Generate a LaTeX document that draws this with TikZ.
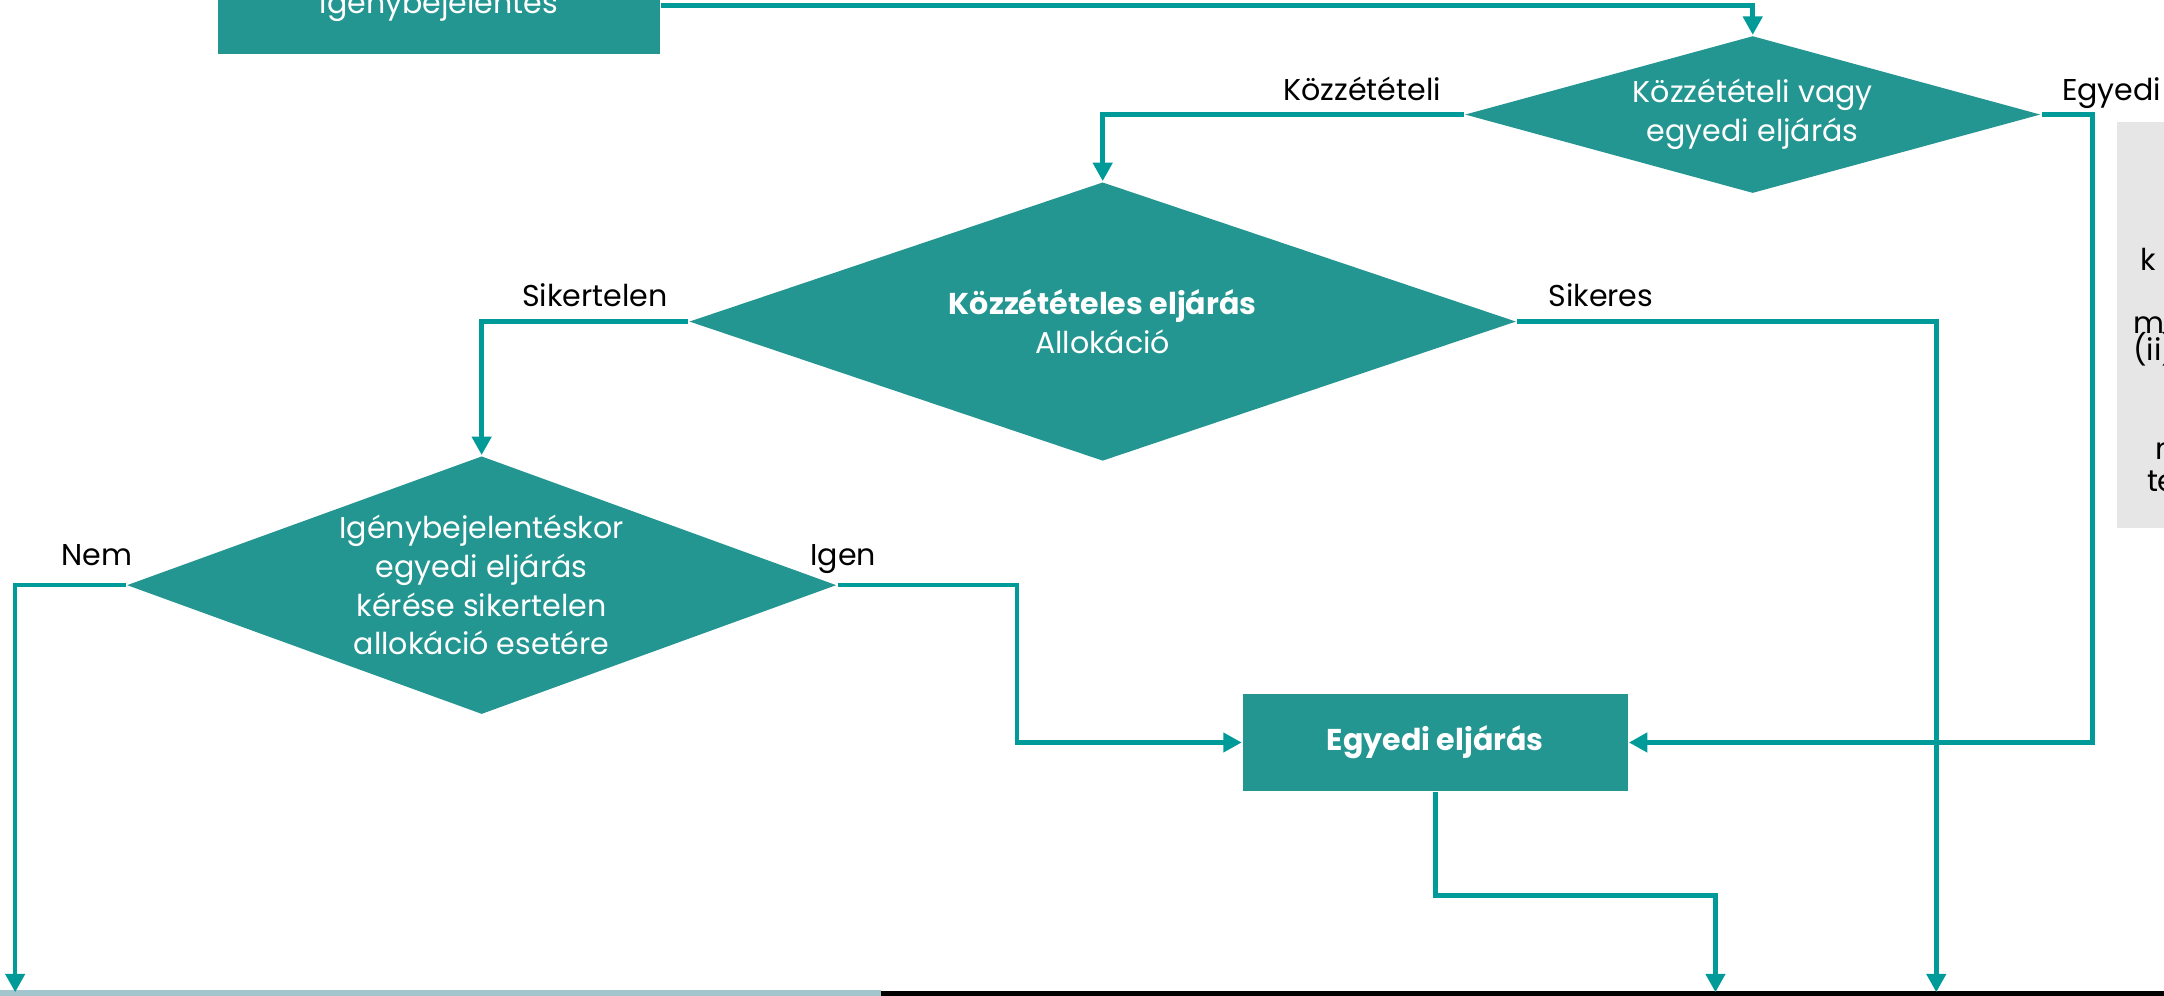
\documentclass[tikz,border=0pt]{standalone}
\usepackage{fontspec}
\setmainfont{Poppins}
\usetikzlibrary{shapes.geometric,arrows.meta}
\definecolor{tealfill}{HTML}{249692}
\definecolor{tealline}{HTML}{009B98}
\definecolor{boxgray}{HTML}{E6E6E6}
\definecolor{bandblue}{HTML}{A2C5CE}

\newcommand{\flowfont}{\fontsize{6.2}{7.97}\selectfont}

\tikzset{
	decision/.style={diamond, fill=tealfill, text=white, inner sep=0pt, aspect=3, align=center, font=\flowfont},
	process/.style={rectangle, fill=tealfill, text=white, inner sep=0pt, align=center, font=\flowfont\bfseries},
	answer/.style={inner sep=0pt, anchor=base, text=black, font=\flowfont},
	flow/.style={draw=tealline, line width=0.95pt, -{Triangle[length=3.8pt,width=3.9pt]}},
}

\begin{document}
\begin{tikzpicture}[x=0.01cm, y=-0.01cm]

\def\W{1568}
\def\H{721}

\useasboundingbox (0,0) rectangle (\W,\H);
\clip (0,0) rectangle (\W,\H);

% boxes
\node[process, font=\flowfont, minimum width=3.2cm, minimum height=0.7cm] (notice) at (318,4) {Igénybejelentés};
\node[decision, minimum width=4.17cm, minimum height=1.14cm] (choice) at (1270,83) {Közzétételi vagy\\egyedi eljárás};
\node[decision, minimum width=5.99cm, minimum height=2.02cm] (alloc) at (799,233) {\textbf{Közzétételes eljárás}\\Allokáció};
\node[decision, minimum width=5.14cm, minimum height=1.87cm] (request) at (349,424) {Igénybejelentéskor\\egyedi eljárás\\kérése sikertelen\\allokáció esetére};
\node[process, minimum width=2.79cm, minimum height=0.7cm] (single) at (1040,538) {Egyedi eljárás};

% grey note, cut at the right
\node[fill=boxgray, inner sep=0pt, anchor=north west, minimum width=1cm, minimum height=2.94cm] (info) at (1533,88) {};
\node[answer, anchor=base west] (infoA) at (1550,196) {k};
\node[answer, anchor=base west] (infoB) at (1545,242) {m};
\node[answer, anchor=base west] (infoC) at (1545,261) {(ii)};
\node[answer, anchor=base west] (infoD) at (1561,333) {n};
\node[answer, anchor=base west] (infoE) at (1555,356) {te};

% boxes below, cut at the bottom
\fill[bandblue] (0,717.5) rectangle (638,730);
\draw[black, line width=1pt] (638,720) -- (\W,720);
\coordinate (outNem) at (11,719);
\coordinate (outSingle) at (1243,719);
\coordinate (outSikeres) at (1403,719);

% labels
\node[answer] (lblPub) at (987,73) {Közzétételi};
\node[answer] (lblSingle) at (1530,73) {Egyedi};
\node[answer] (lblFail) at (431,222) {Sikertelen};
\node[answer] (lblOk) at (1160,222) {Sikeres};
\node[answer] (lblNo) at (70,410) {Nem};
\node[answer] (lblYes) at (611,410) {Igen};

% connectors
\draw[flow] (notice.east) -| (choice.north);
\draw[flow] (choice.west) -| (alloc.north);
\draw[flow] (choice.east) -- ++(37,0) |- (single.east);
\draw[flow] (alloc.west) -| (request.north);
\draw[flow] (alloc.east) -| (outSikeres);
\draw[flow] (request.west) -| (outNem);
\draw[flow] (request.east) -- ++(130,0) |- (single.west);
\draw[flow] (single.south) -- ++(0,75) -| (outSingle);

\end{tikzpicture}
\end{document}
